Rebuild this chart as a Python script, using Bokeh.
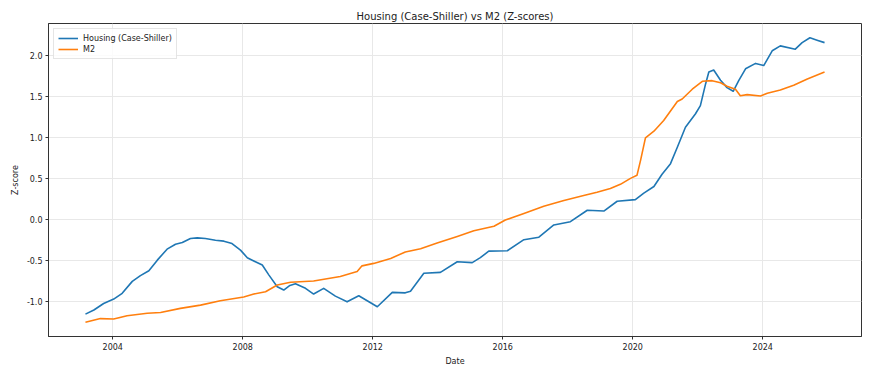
import pandas as pd
from bokeh.plotting import figure
from bokeh.models import (ColumnDataSource, Range1d, FixedTicker, DatetimeTickFormatter,
                          NumeralTickFormatter, Legend, LegendItem)
from bokeh.embed import file_html
from bokeh.resources import INLINE

# ---- data (dates as decimal years) ----
housing_years = [2003.16, 2003.42, 2003.72, 2004.03, 2004.29, 2004.60, 2004.85, 2005.11,
                 2005.37, 2005.67, 2005.93, 2006.14, 2006.39, 2006.60, 2006.85, 2007.16,
                 2007.42, 2007.67, 2007.93, 2008.14, 2008.34, 2008.60, 2008.80, 2009.06,
                 2009.26, 2009.45, 2009.62, 2009.93, 2010.18, 2010.49, 2010.85, 2011.21,
                 2011.57, 2011.83, 2012.14, 2012.60, 2013.00, 2013.16, 2013.57, 2014.08,
                 2014.60, 2015.06, 2015.31, 2015.57, 2016.14, 2016.65, 2017.11, 2017.57,
                 2018.08, 2018.60, 2019.11, 2019.52, 2020.08, 2020.34, 2020.65, 2020.90,
                 2021.16, 2021.37, 2021.62, 2021.93, 2022.08, 2022.24, 2022.34, 2022.49,
                 2022.70, 2022.90, 2023.09, 2023.26, 2023.47, 2023.78, 2024.03, 2024.29,
                 2024.54, 2025.00, 2025.21, 2025.45, 2025.67, 2025.90]
housing_z = [-1.16, -1.11, -1.03, -0.976, -0.906, -0.76, -0.69, -0.63,
             -0.50, -0.366, -0.305, -0.285, -0.236, -0.228, -0.236, -0.256,
             -0.268, -0.297, -0.378, -0.47, -0.51, -0.56, -0.68, -0.825,
             -0.866, -0.81, -0.79, -0.845, -0.915, -0.845, -0.94, -1.01,
             -0.935, -0.996, -1.07, -0.894, -0.90, -0.88, -0.66, -0.65,
             -0.52, -0.53, -0.47, -0.39, -0.385, -0.25, -0.22, -0.07,
             -0.03, 0.11, 0.10, 0.22, 0.24, 0.32, 0.40, 0.55,
             0.68, 0.88, 1.126, 1.29, 1.39, 1.655, 1.80, 1.825,
             1.70, 1.61, 1.565, 1.695, 1.84, 1.906, 1.88, 2.06,
             2.12, 2.08, 2.16, 2.22, 2.19, 2.16]

m2_years = [2003.16, 2003.62, 2004.03, 2004.44, 2005.06, 2005.47, 2006.08, 2006.70,
            2007.31, 2008.03, 2008.34, 2008.70, 2009.06, 2009.47, 2010.18, 2011.00,
            2011.52, 2011.67, 2012.03, 2012.55, 2013.00, 2013.47, 2013.98, 2014.60,
            2015.11, 2015.73, 2016.08, 2016.65, 2017.26, 2017.88, 2018.49, 2018.90,
            2019.31, 2019.62, 2019.93, 2020.13, 2020.24, 2020.39, 2020.65, 2020.95,
            2021.37, 2021.52, 2021.83, 2022.14, 2022.44, 2022.70, 2022.90, 2023.16,
            2023.31, 2023.52, 2023.93, 2024.14, 2024.54, 2024.95, 2025.37, 2025.90]
m2_z = [-1.26, -1.215, -1.22, -1.18, -1.15, -1.14, -1.09, -1.05,
        -0.996, -0.95, -0.915, -0.886, -0.805, -0.77, -0.756, -0.70,
        -0.64, -0.57, -0.54, -0.48, -0.40, -0.36, -0.29, -0.21,
        -0.14, -0.085, -0.01, 0.07, 0.16, 0.23, 0.29, 0.33,
        0.375, 0.427, 0.50, 0.537, 0.72, 0.996, 1.077, 1.207,
        1.44, 1.47, 1.59, 1.687, 1.695, 1.67, 1.626, 1.59,
        1.51, 1.524, 1.508, 1.54, 1.58, 1.64, 1.716, 1.80]

tick_years = [2004, 2008, 2012, 2016, 2020, 2024]
y_ticks = [-1.0, -0.5, 0.0, 0.5, 1.0, 1.5, 2.0]

FONT = "DejaVu Sans"


def to_dt(years):
    out = []
    for y in years:
        yi = int(y)
        start = pd.Timestamp(yi, 1, 1)
        length = pd.Timestamp(yi + 1, 1, 1) - start
        out.append(start + (y - yi) * length)
    return pd.DatetimeIndex(out)


hx = to_dt(housing_years)
mx = to_dt(m2_years)
hs = ColumnDataSource(dict(x=hx, y=housing_z))
ms = ColumnDataSource(dict(x=mx, y=m2_z))

# matplotlib-like 5% margins
xmin = min(hx.min(), mx.min())
xmax = max(hx.max(), mx.max())
xpad = (xmax - xmin) * 0.05
ymin = min(min(housing_z), min(m2_z))
ymax = max(max(housing_z), max(m2_z))
ypad = (ymax - ymin) * 0.05

p = figure(width=870, height=373, x_axis_type="datetime", output_backend="svg",
           toolbar_location=None,
           x_range=Range1d(xmin - xpad, xmax + xpad),
           y_range=Range1d(ymin - ypad, ymax + ypad),
           min_border_left=48, min_border_right=9, min_border_top=23, min_border_bottom=37)

p.title.text = "Housing (Case-Shiller) vs M2 (Z-scores)"
p.title.align = "center"
p.title.text_font = FONT
p.title.text_font_size = "10px"
p.title.text_font_style = "normal"
p.title.text_color = "#222222"
p.title.standoff = 4

r1 = p.line("x", "y", source=hs, line_color="#1f77b4", line_width=1.6, line_join="round")
r2 = p.line("x", "y", source=ms, line_color="#ff7f0e", line_width=1.6, line_join="round")

p.xaxis.ticker = FixedTicker(ticks=[pd.Timestamp(y, 1, 1).value / 1e6 for y in tick_years])
p.xaxis.formatter = DatetimeTickFormatter(years="%Y", months="%Y", days="%Y", hours="%Y")
p.yaxis.ticker = FixedTicker(ticks=y_ticks)
p.yaxis.formatter = NumeralTickFormatter(format="0.0")

p.xaxis.axis_label = "Date"
p.yaxis.axis_label = "Z-score"

for ax in (p.xaxis[0], p.yaxis[0]):
    ax.axis_label_text_font = FONT
    ax.axis_label_text_font_size = "8px"
    ax.axis_label_text_font_style = "normal"
    ax.axis_label_text_color = "#222222"
    ax.axis_label_standoff = 4
    ax.major_label_text_font = FONT
    ax.major_label_text_font_size = "8px"
    ax.major_label_text_color = "#222222"
    ax.major_label_standoff = 3
    ax.major_tick_out = 3
    ax.major_tick_in = 0
    ax.minor_tick_out = 0
    ax.minor_tick_in = 0
    ax.axis_line_color = "#333333"
    ax.major_tick_line_color = "#333333"

p.outline_line_color = "#333333"
p.outline_line_width = 1
p.xgrid.grid_line_color = "#e8e8e8"
p.ygrid.grid_line_color = "#e8e8e8"
p.background_fill_color = "white"
p.border_fill_color = "white"

legend = Legend(items=[LegendItem(label="Housing (Case-Shiller)", renderers=[r1]),
                       LegendItem(label="M2", renderers=[r2])],
                location="top_left")
legend.label_text_font = FONT
legend.label_text_font_size = "8px"
legend.label_text_color = "#222222"
legend.label_height = 10
legend.glyph_height = 10
legend.glyph_width = 20
legend.spacing = 1
legend.padding = 4
legend.margin = 5
legend.border_line_color = "#cccccc"
legend.border_line_width = 1
legend.background_fill_alpha = 0.8
p.add_layout(legend)

open("out.html", "w").write(file_html(p, INLINE))
